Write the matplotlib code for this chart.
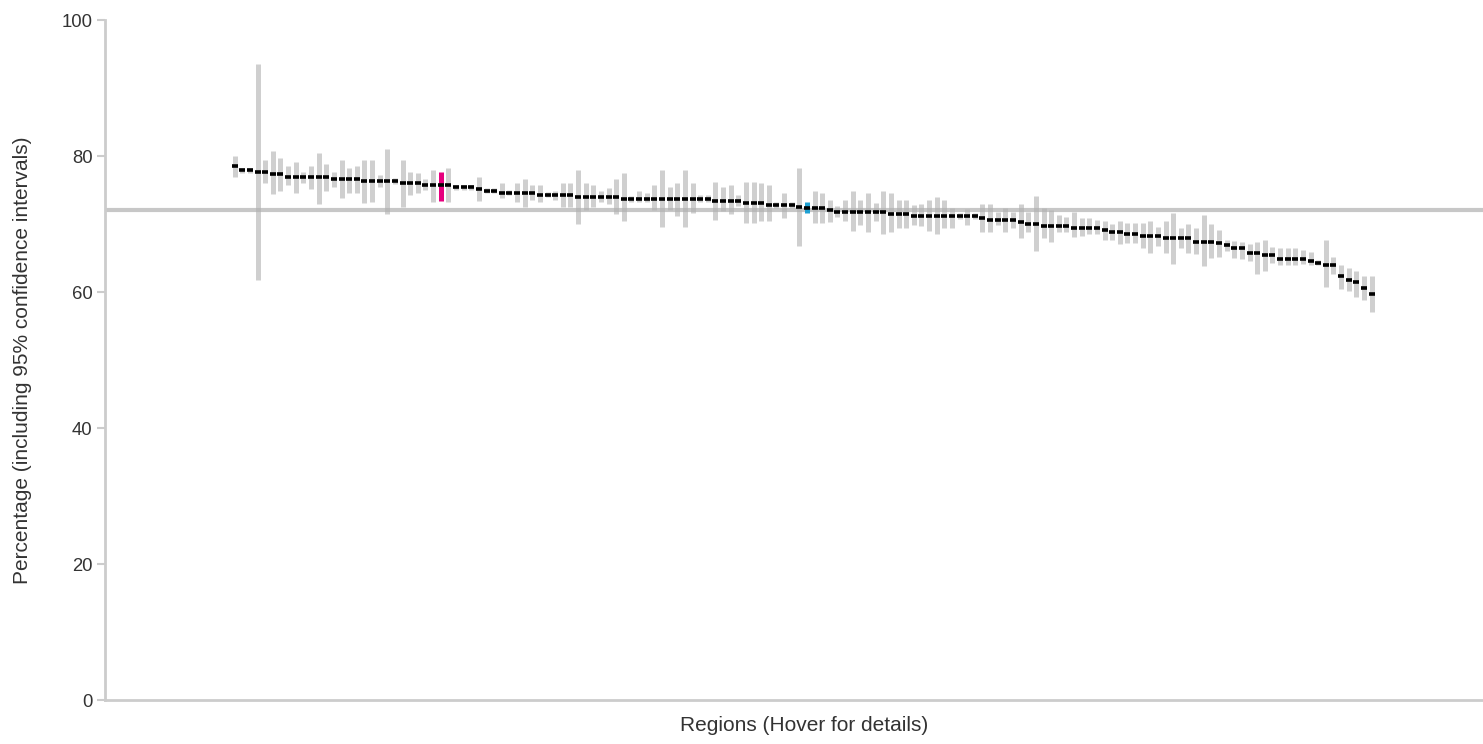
import matplotlib.pyplot as plt

# valores (150 regiones ordenadas de mayor a menor)
values = [78.6, 77.9, 77.9, 77.6, 77.6, 77.4, 77.4, 76.9, 76.9, 76.9,
          76.9, 76.9, 76.9, 76.6, 76.6, 76.6, 76.6, 76.3, 76.3, 76.3,
          76.3, 76.3, 76.0, 76.0, 76.0, 75.7, 75.7, 75.7, 75.7, 75.4,
          75.4, 75.4, 75.1, 74.9, 74.9, 74.6, 74.6, 74.6, 74.6, 74.6,
          74.3, 74.3, 74.3, 74.3, 74.3, 74.0, 74.0, 74.0, 74.0, 74.0,
          74.0, 73.7, 73.7, 73.7, 73.7, 73.7, 73.7, 73.7, 73.7, 73.7,
          73.7, 73.7, 73.7, 73.4, 73.4, 73.4, 73.4, 73.1, 73.1, 73.1,
          72.8, 72.8, 72.8, 72.8, 72.5, 72.4, 72.4, 72.4, 72.1, 71.8,
          71.8, 71.8, 71.8, 71.8, 71.8, 71.8, 71.5, 71.5, 71.5, 71.2,
          71.2, 71.2, 71.2, 71.2, 71.2, 71.2, 71.2, 71.2, 70.9, 70.6,
          70.6, 70.6, 70.6, 70.3, 70.0, 70.0, 69.7, 69.7, 69.7, 69.7,
          69.4, 69.4, 69.4, 69.4, 69.1, 68.8, 68.8, 68.5, 68.5, 68.3,
          68.3, 68.3, 68.0, 68.0, 68.0, 68.0, 67.4, 67.4, 67.4, 67.2,
          66.9, 66.4, 66.4, 65.8, 65.8, 65.5, 65.5, 64.9, 64.9, 64.9,
          64.9, 64.6, 64.3, 64.0, 64.0, 62.4, 61.8, 61.5, 60.6, 59.7]

lower = [76.9, 77.5, 77.5, 61.8, 76.0, 74.4, 74.9, 75.7, 74.6, 76.1,
         75.1, 72.9, 74.9, 75.5, 73.8, 74.6, 74.6, 73.1, 73.3, 75.5,
         71.5, 75.9, 72.5, 74.3, 74.5, 75.0, 73.3, 73.4, 73.3, 75.0,
         75.0, 75.0, 73.4, 74.5, 74.5, 73.8, 74.2, 73.3, 72.5, 73.5,
         73.2, 73.9, 73.6, 72.5, 72.5, 70.0, 72.1, 72.5, 73.2, 73.0,
         71.5, 70.4, 73.3, 73.2, 73.2, 72.1, 69.5, 72.1, 71.2, 69.5,
         71.6, 73.2, 73.2, 70.6, 71.9, 71.5, 72.6, 70.1, 70.1, 70.4,
         70.4, 72.4, 70.9, 72.4, 66.8, 71.6, 70.1, 70.1, 70.3, 71.1,
         70.4, 69.0, 69.9, 68.8, 70.4, 68.6, 68.8, 69.4, 69.4, 69.9,
         69.7, 69.0, 68.6, 69.4, 69.4, 70.8, 69.9, 70.8, 68.8, 68.8,
         69.9, 68.8, 69.4, 68.0, 68.8, 66.0, 68.0, 67.3, 68.8, 68.8,
         68.1, 68.3, 68.6, 68.6, 67.7, 67.7, 67.0, 67.2, 67.2, 66.4,
         65.8, 66.7, 65.8, 64.1, 66.4, 65.8, 65.6, 63.8, 65.0, 65.2,
         66.0, 65.0, 64.8, 64.6, 62.6, 63.1, 64.3, 63.9, 63.9, 63.9,
         64.1, 63.9, 63.9, 60.7, 62.7, 60.4, 60.1, 59.3, 58.9, 57.0]

upper = [80.0, 78.3, 78.3, 93.6, 79.4, 80.8, 79.7, 78.5, 79.1, 77.7,
         78.5, 80.5, 78.8, 77.6, 79.4, 78.3, 78.5, 79.4, 79.4, 77.2,
         81.1, 76.7, 79.4, 77.7, 77.5, 76.6, 77.9, 77.6, 78.2, 75.8,
         75.8, 75.8, 76.9, 75.3, 75.3, 76.1, 75.0, 76.0, 76.6, 75.7,
         75.7, 74.7, 74.9, 76.0, 76.0, 77.9, 76.0, 75.7, 74.9, 75.3,
         76.6, 77.5, 74.1, 74.9, 74.6, 75.7, 77.9, 75.5, 76.0, 77.9,
         76.0, 74.3, 74.3, 76.2, 75.5, 75.7, 74.3, 76.2, 76.2, 76.0,
         75.7, 73.2, 74.6, 73.2, 78.2, 73.3, 74.8, 74.6, 73.6, 72.6,
         73.5, 74.8, 73.6, 74.6, 73.1, 74.8, 74.6, 73.5, 73.5, 72.8,
         72.9, 73.5, 74.0, 73.5, 72.4, 71.6, 72.2, 71.6, 72.9, 72.9,
         71.7, 72.4, 71.7, 72.9, 71.7, 74.1, 72.4, 72.1, 71.3, 71.0,
         71.8, 70.9, 70.9, 70.6, 70.5, 70.0, 70.5, 70.2, 70.2, 70.2,
         70.5, 69.6, 70.5, 71.6, 69.4, 70.0, 69.4, 71.3, 70.0, 69.1,
         67.6, 67.5, 67.3, 67.1, 67.4, 67.7, 66.6, 66.5, 66.4, 66.4,
         66.2, 65.9, 64.7, 67.7, 65.2, 64.0, 63.5, 63.1, 62.4, 62.4]

average = 72.1
highlight_pink = 27
highlight_blue = 75

plt.rcParams['font.family'] = ['Liberation Sans', 'DejaVu Sans']

fig = plt.figure(figsize=(14.83, 7.44), dpi=100)
ax = fig.add_axes([0.0708, 0.0591, 0.9292, 0.914])

x = list(range(len(values)))
colors = []
for i in x:
    if i == highlight_pink:
        colors.append('#e6007e')
    elif i == highlight_blue:
        colors.append('#1ea0d2')
    else:
        colors.append('#b0b0b0')
alphas = [1.0 if i in (highlight_pink, highlight_blue) else 0.6 for i in x]

# intervalos de confianza
for i in x:
    ax.vlines(i, lower[i], upper[i], color=colors[i], alpha=alphas[i], linewidth=3.6, zorder=2)

# linea de la media
ax.axhline(average, color='#b0b0b0', alpha=0.7, linewidth=3, zorder=1)

# marcadores de cada region
ax.plot(x, values, linestyle='none', marker='_', markersize=4.5,
        markeredgewidth=2.6, color='black', zorder=3)

ax.set_xlim(-17.0, 163.6)
ax.set_ylim(0, 100)
ax.set_yticks([0, 20, 40, 60, 80, 100])
ax.set_xticks([])

for s in ['top', 'right']:
    ax.spines[s].set_visible(False)
for s in ['left', 'bottom']:
    ax.spines[s].set_color('#cccccc')
    ax.spines[s].set_linewidth(2)

ax.tick_params(axis='y', colors='#cccccc', length=6, width=1.5, pad=3,
               labelcolor='#333333', labelsize=13.3)
ax.set_ylabel('Percentage (including 95% confidence intervals)', color='#333333', fontsize=15)
ax.set_xlabel('Regions (Hover for details)', color='#333333', fontsize=15)
ax.yaxis.set_label_coords(-0.0602, 0.5)
ax.xaxis.set_label_coords(0.507, -0.024)
ax.xaxis.label.set_va('top')
ax.yaxis.label.set_va('center')

fig.savefig('out.png', dpi=100)
